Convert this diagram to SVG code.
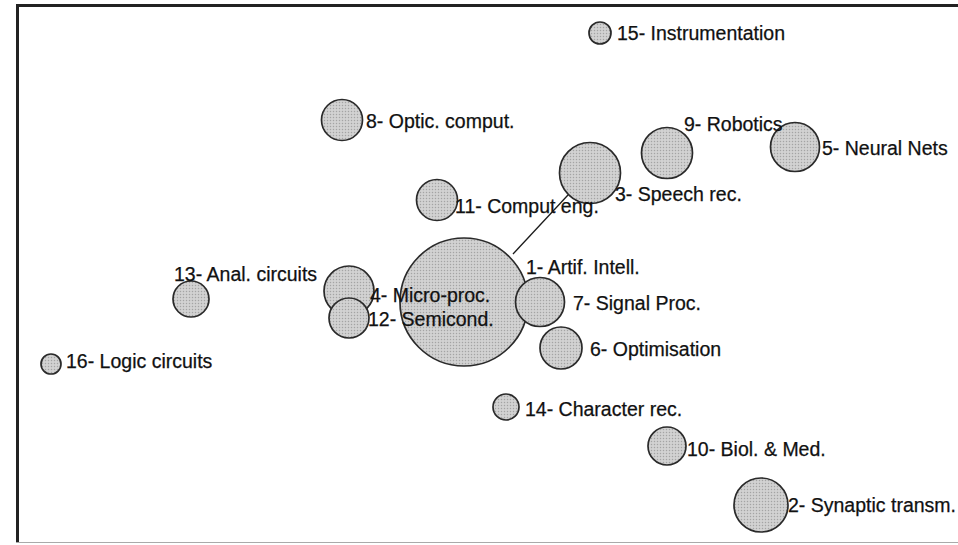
<svg xmlns="http://www.w3.org/2000/svg" width="958" height="545" viewBox="0 0 958 545">
<defs>
<pattern id="dots" width="3" height="3" patternUnits="userSpaceOnUse">
<rect width="3" height="3" fill="#cbcbcb"/>
<rect x="0" y="0" width="1" height="1" fill="#a4a4a4"/>
<rect x="1.5" y="1.5" width="1" height="1" fill="#e8e8e8"/>
</pattern>
</defs>
<style>
.n{fill:url(#dots);stroke:#2a2a2a;stroke-width:1.7}
.t{font-family:"Liberation Sans",Arial,sans-serif;font-size:19.5px;fill:#111;stroke:#111;stroke-width:0.25}
.c{stroke:#1a1a1a;stroke-width:1.3;fill:none}
</style>
<rect width="958" height="545" fill="#ffffff"/>
<g id="frame">
<line x1="16" y1="5.5" x2="958" y2="5.5" stroke="#222" stroke-width="3"/>
<line x1="17.5" y1="4" x2="17.5" y2="543" stroke="#222" stroke-width="3"/>
<line x1="16" y1="542.5" x2="958" y2="542.5" stroke="#aaa" stroke-width="1.2"/>
</g>
<g id="connectors">
<line class="c" x1="513" y1="254" x2="568" y2="195"/>
</g>
<g id="n1"><circle class="n" cx="464" cy="302" r="64"/></g>
<g id="n7"><circle class="n" cx="540" cy="302" r="24.5"/></g>
<g id="n6"><circle class="n" cx="561" cy="348" r="21"/></g>
<g id="n3"><circle class="n" cx="590" cy="173" r="30.5"/></g>
<g id="n11"><circle class="n" cx="437" cy="200" r="20.5"/></g>
<g id="n8"><circle class="n" cx="342" cy="120" r="20.5"/></g>
<g id="n9"><circle class="n" cx="667" cy="153" r="25.5"/></g>
<g id="n5"><circle class="n" cx="795" cy="147" r="24.5"/></g>
<g id="n15"><circle class="n" cx="600" cy="33" r="11"/></g>
<g id="n4"><circle class="n" cx="349" cy="291" r="25"/></g>
<g id="n12"><circle class="n" cx="349" cy="318" r="20"/></g>
<g id="n13"><circle class="n" cx="191" cy="299" r="18"/></g>
<g id="n16"><circle class="n" cx="51" cy="364" r="10"/></g>
<g id="n14"><circle class="n" cx="506" cy="407" r="13"/></g>
<g id="n10"><circle class="n" cx="667" cy="446" r="19"/></g>
<g id="n2"><circle class="n" cx="761" cy="505" r="27"/></g>
<g id="labels">
<text class="t" x="617" y="40">15- Instrumentation</text>
<text class="t" x="366" y="128">8- Optic. comput.</text>
<text class="t" x="684" y="131">9- Robotics</text>
<text class="t" x="822" y="155">5- Neural Nets</text>
<text class="t" x="615" y="201">3- Speech rec.</text>
<text class="t" x="455" y="213">11- Comput eng.</text>
<text class="t" x="174" y="281">13- Anal. circuits</text>
<text class="t" x="370" y="302">4- Micro-proc.</text>
<text class="t" x="368" y="326">12- Semicond.</text>
<text class="t" x="526" y="274">1- Artif. Intell.</text>
<text class="t" x="573" y="310">7- Signal Proc.</text>
<text class="t" x="590" y="356">6- Optimisation</text>
<text class="t" x="66" y="368">16- Logic circuits</text>
<text class="t" x="525" y="416">14- Character rec.</text>
<text class="t" x="687" y="456">10- Biol. &amp; Med.</text>
<text class="t" x="788" y="512">2- Synaptic transm.</text>
</g>
</svg>
